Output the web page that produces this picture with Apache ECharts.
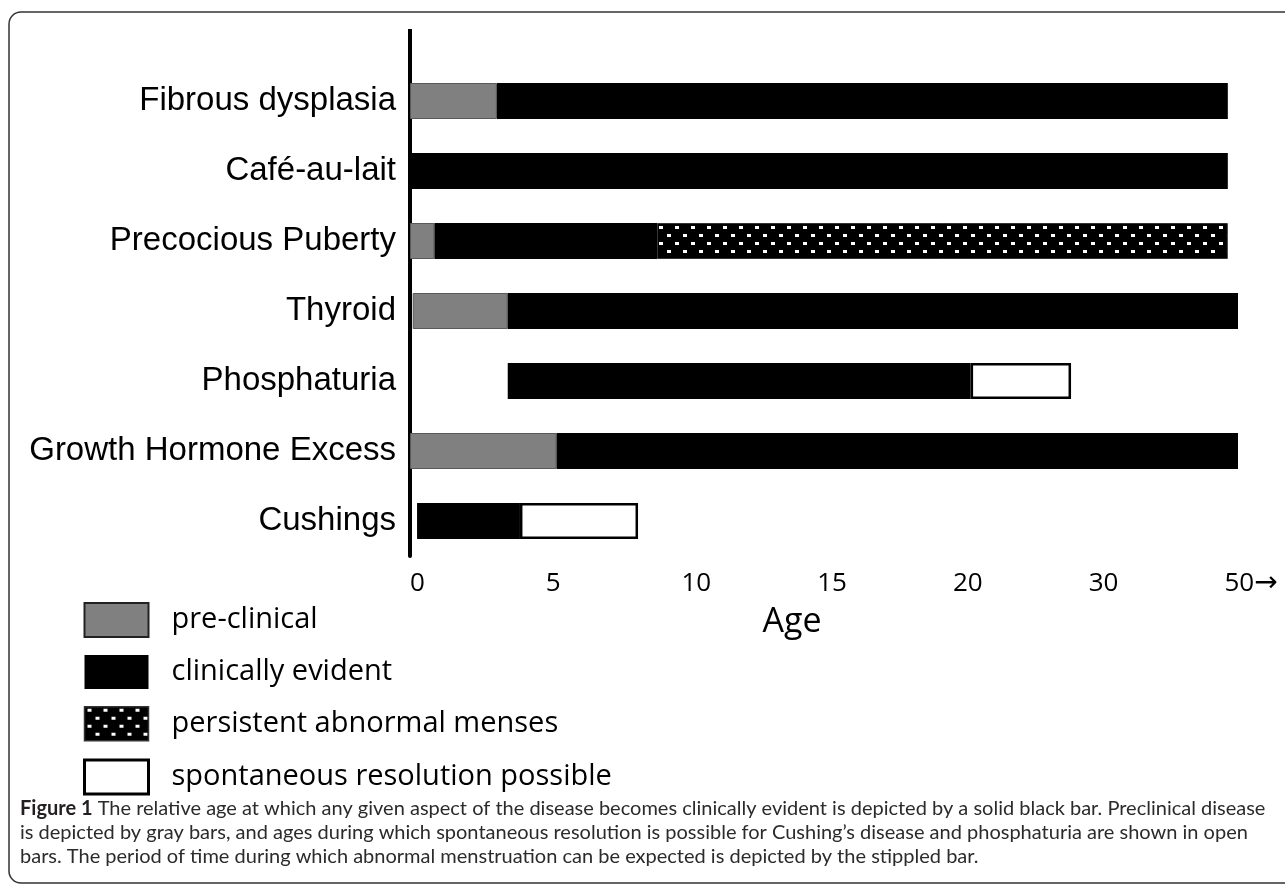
<!DOCTYPE html>
<html>
<head>
<meta charset="utf-8">
<title>Disease aspects by age</title>
<script src="https://cdn.jsdelivr.net/npm/echarts@6.0.0/dist/echarts.min.js"></script>
<style>
html, body { margin: 0; padding: 0; background: #fff; }
#chart { width: 1285px; height: 887px; }
</style>
</head>
<body>
<div id="chart"></div>
<script>
var categories = ['Fibrous dysplasia', 'Café-au-lait', 'Precocious Puberty', 'Thyroid', 'Phosphaturia', 'Growth Hormone Excess', 'Cushings'];
// [start age, end age] of each phase per row, null = phase not shown
var preClinical    = [[0, 3.2], null, [0, 0.9], [0.1, 3.6], null, [0, 5.4], null];
var clinical       = [[3.2, 50.5], [0, 50.5], [0.9, 9.1], [3.6, 52.1], [3.6, 21.3], [5.4, 52.1], [0.26, 4.05]];
var abnormalMenses = [null, null, [9.1, 50.5], null, null, null, null];
var resolution     = [null, null, null, null, [21.3, 28.7], null, [4.05, 8.4]];
var tickAges   = [0, 5, 10, 15, 20, 30, 50];
var tickLabels = ['0', '5', '10', '15', '20', '30', '50{a|\u2192}'];

// the age axis is evenly spaced between uneven ages, so map age -> tick index
function toAxis(age) {
    var n = tickAges.length - 1;
    for (var i = 0; i < n; i++) {
        if (age <= tickAges[i + 1]) {
            return i + (age - tickAges[i]) / (tickAges[i + 1] - tickAges[i]);
        }
    }
    return n + (age - tickAges[n]) / (tickAges[n] - tickAges[n - 1]);
}
function lengths(list) {
    return list.map(function (seg) {
        return seg ? toAxis(seg[1]) - toAxis(seg[0]) : null;
    });
}
var offsets = categories.map(function (c, i) {
    var starts = [preClinical[i], clinical[i], abnormalMenses[i], resolution[i]]
        .filter(function (s) { return s; })
        .map(function (s) { return s[0]; });
    return toAxis(Math.min.apply(null, starts));
});

// stippled fill: black with white dots
var tile = document.createElement('canvas');
tile.width = 16; tile.height = 16;
var ctx = tile.getContext('2d');
ctx.fillStyle = '#000';
ctx.fillRect(0, 0, 16, 16);
ctx.fillStyle = '#fff';
ctx.fillRect(3, 2, 4, 3);
ctx.fillRect(11, 10, 4, 3);

var myChart = echarts.init(document.getElementById('chart'));
var option = {
    animation: false,
    title: {
        text: '{b|Figure 1} The relative age at which any given aspect of the disease becomes clinically evident is depicted by a solid black bar. Preclinical disease\n' +
              'is depicted by gray bars, and ages during which spontaneous resolution is possible for Cushing\u2019s disease and phosphaturia are shown in open\n' +
              'bars. The period of time during which abnormal menstruation can be expected is depicted by the stippled bar.',
        left: 20,
        top: 797,
        padding: 0,
        textStyle: {
            fontFamily: 'Lato', fontSize: 20, fontWeight: 'normal', color: '#2b2b2b', lineHeight: 24,
            rich: { b: { fontFamily: 'Lato', fontSize: 20, fontWeight: 'bold', color: '#231f20', lineHeight: 24 } }
        }
    },
    legend: {
        orient: 'vertical',
        left: 83,
        top: 602,
        padding: 0,
        itemWidth: 64,
        itemHeight: 34,
        itemGap: 17,
        icon: 'rect',
        selectedMode: false,
        data: [
            { name: 'pre-clinical', itemStyle: { borderColor: '#222', borderWidth: 2 } },
            { name: 'clinically evident' },
            { name: 'persistent abnormal menses', itemStyle: { borderColor: '#333', borderWidth: 1.5 } },
            { name: 'spontaneous resolution possible', itemStyle: { borderColor: '#000', borderWidth: 3 } }
        ],
        textStyle: { fontFamily: 'Open Sans', fontSize: 29, color: '#000', lineHeight: 34, padding: [0, 0, 0, 18] }
    },
    grid: { left: 410, top: 66, width: 828, height: 490 },
    xAxis: {
        type: 'value',
        min: 0,
        max: 6.1,
        name: 'Age',
        nameLocation: 'middle',
        nameGap: 46,
        nameTextStyle: { fontFamily: 'Open Sans', fontSize: 34, color: '#000', padding: [0, 64, 0, 0] },
        splitLine: { show: false },
        axisTick: { show: false },
        axisLine: { lineStyle: { color: '#000', width: 4 } },
        axisLabel: {
            customValues: [0, 1, 2, 3, 4, 5, 6],
            formatter: function (v) { return tickLabels[Math.round(v)] || ''; },
            align: 'left',
            margin: 12,
            lineHeight: 32,
            fontFamily: 'Open Sans', fontSize: 26, color: '#000',
            rich: { a: { fontFamily: 'DejaVu Sans', fontSize: 28, lineHeight: 32, color: '#000' } }
        }
    },
    yAxis: {
        type: 'category',
        inverse: true,
        data: categories,
        axisTick: { show: false },
        axisLine: { lineStyle: { color: '#000', width: 4 } },
        axisLabel: { margin: 14, fontFamily: 'Liberation Sans', fontSize: 33, color: '#000', padding: [12, 0, 0, 0] }
    },
    graphic: [
        { type: 'line', shape: { x1: 410, y1: 29, x2: 410, y2: 66 }, style: { stroke: '#000', lineWidth: 4 } },
        { type: 'rect', shape: { x: 9, y: 12, width: 1300, height: 871, r: 12 }, style: { fill: 'none', stroke: '#333', lineWidth: 1.5 } }
    ],
    series: [
        { name: 'offset', type: 'bar', stack: 'age', barWidth: 36, silent: true,
          itemStyle: { color: 'transparent' }, data: offsets },
        { name: 'pre-clinical', type: 'bar', stack: 'age', barWidth: 36,
          itemStyle: { color: '#808080', borderColor: '#5a5a5a', borderWidth: 1 }, data: lengths(preClinical) },
        { name: 'clinically evident', type: 'bar', stack: 'age', barWidth: 36,
          itemStyle: { color: '#000' }, data: lengths(clinical) },
        { name: 'persistent abnormal menses', type: 'bar', stack: 'age', barWidth: 36,
          itemStyle: { color: { image: tile, repeat: 'repeat' }, borderColor: '#333', borderWidth: 1 }, data: lengths(abnormalMenses) },
        { name: 'spontaneous resolution possible', type: 'bar', stack: 'age', barWidth: 36,
          itemStyle: { color: '#fff', borderColor: '#000', borderWidth: 2.5 }, data: lengths(resolution) }
    ]
};
myChart.setOption(option);
</script>
</body>
</html>
